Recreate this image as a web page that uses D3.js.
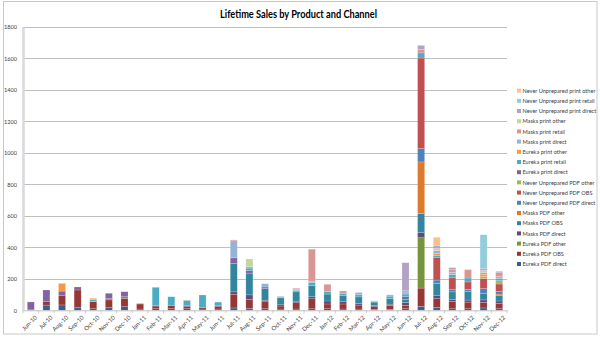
<!DOCTYPE html>
<html><head><meta charset="utf-8">
<script src="https://cdn.jsdelivr.net/npm/d3@7"></script>
<style>html,body{margin:0;padding:0;background:#fff;}svg{display:block;font-family:Lato,"Open Sans",sans-serif;}</style>
</head><body><svg id="c" width="600" height="338"></svg>
<script>
const months = ["Jun-10","Jul-10","Aug-10","Sep-10","Oct-10","Nov-10","Dec-10","Jan-11","Feb-11","Mar-11","Apr-11","May-11","Jun-11","Jul-11","Aug-11","Sep-11","Oct-11","Nov-11","Dec-11","Jan-12","Feb-12","Mar-12","Apr-12","May-12","Jun-12","Jul-12","Aug-12","Sep-12","Oct-12","Nov-12","Dec-12"];
const seriesNames = ["Eureka PDF direct","Eureka PDF OBS","Eureka PDF other","Masks PDF direct","Masks PDF OBS","Masks PDF other","Never Unprepared PDF direct","Never Unprepared PDF OBS","Never Unprepared PDF other","Eureka print direct","Eureka print retail","Eureka print other","Masks print direct","Masks print retail","Masks print other","Never Unprepared print direct","Never Unprepared print retail","Never Unprepared print other"];
const seriesColors = ["#3a5f8e","#953735","#77933c","#604a7b","#31859c","#dd7a2d","#4f81bd","#c0504d","#9bbb59","#8064a2","#4bacc6","#f79646","#95b3d7","#d99694","#c3d69b","#b3a2c7","#93cddd","#fac090"];
const eurekaPdfDirect   = [3,33,34,17,10,17,23,8,10,10,10,8,8,15,13,10,8,8,10,10,8,8,6,6,10,25,19,10,10,15,10];
const eurekaPdfObs      = [0,22,61,112,45,49,53,32,17,21,13,10,15,87,57,44,19,40,63,30,32,25,17,25,21,116,55,47,42,34,34];
const eurekaPdfOther    = [0,0,0,0,3,8,10,0,0,0,0,0,0,0,0,0,0,0,0,0,0,0,0,0,0,320,0,0,0,0,0];
const masksPdfDirect    = [0,0,0,0,0,0,0,0,4,0,8,0,6,15,28,10,8,10,13,19,15,10,8,8,19,32,21,13,13,17,15];
const masksPdfObs       = [0,0,0,0,0,0,0,0,0,0,0,0,0,180,138,74,44,59,72,44,40,42,21,36,19,121,76,47,55,42,36];
const masksPdfOther     = [0,0,0,0,0,0,0,0,0,0,0,0,0,0,0,0,0,0,0,0,0,0,0,0,0,328,0,0,0,0,8];
const nuPdfDirect       = [0,0,0,0,0,0,0,0,0,0,0,0,0,0,0,0,0,0,0,0,0,0,0,0,0,85,21,17,13,30,17];
const nuPdfObs          = [0,0,0,0,0,0,0,0,0,0,0,0,0,0,0,0,0,0,0,0,0,0,0,0,0,575,144,72,47,63,47];
const nuPdfOther        = [0,0,0,0,0,0,0,0,0,0,0,0,0,0,0,0,0,0,0,0,0,0,0,0,0,0,0,0,0,13,21];
const eurekaPrintDirect = [50,74,27,19,0,34,32,0,0,0,0,0,0,36,17,10,0,0,0,0,0,0,0,0,17,0,0,0,0,0,0];
const eurekaPrintRetail = [0,0,0,0,10,0,0,0,115,55,32,79,23,0,15,0,5,10,17,15,13,15,4,15,17,32,13,21,25,0,13];
const eurekaPrintOther  = [0,0,49,0,8,0,0,0,0,0,2,0,0,0,0,0,0,0,0,0,0,0,0,0,0,0,13,0,0,13,0];
const masksPrintDirect  = [0,0,0,0,0,0,0,0,0,0,0,0,0,108,10,21,5,6,10,0,0,13,4,8,13,0,17,13,0,0,13];
const masksPrintRetail  = [0,0,0,0,0,0,0,5,0,0,0,0,0,6,0,0,0,7,203,47,15,0,0,0,8,23,0,21,53,13,25];
const masksPrintOther   = [0,0,0,0,0,0,0,0,0,0,0,0,0,0,48,0,0,0,0,0,0,0,0,0,0,0,13,0,0,13,0];
const nuPrintDirect     = [0,0,0,0,0,0,0,0,0,0,0,0,0,0,0,0,0,0,0,0,0,0,0,0,178,25,17,10,0,13,8];
const nuPrintRetail     = [0,0,0,0,0,0,0,0,0,0,0,0,0,0,0,0,0,0,0,0,0,0,0,0,0,0,0,0,0,214,0];
const nuPrintOther      = [0,0,0,0,0,0,0,0,0,0,0,0,0,0,0,0,0,0,0,0,0,0,0,0,0,0,55,0,0,0,0];
const yTicks = [0,200,400,600,800,1000,1200,1400,1600,1800];
const title = "Lifetime Sales by Product and Channel";

const seriesValues = [eurekaPdfDirect,eurekaPdfObs,eurekaPdfOther,masksPdfDirect,masksPdfObs,masksPdfOther,nuPdfDirect,nuPdfObs,nuPdfOther,eurekaPrintDirect,eurekaPrintRetail,eurekaPrintOther,masksPrintDirect,masksPrintRetail,masksPrintOther,nuPrintDirect,nuPrintRetail,nuPrintOther];
const table = months.map((m,i)=>{const r={month:m}; seriesNames.forEach((s,j)=>r[s]=seriesValues[j][i]); return r;});

const svg = d3.select("#c");
const L=23, R=507, T=26.8, B=310.3;
const x = d3.scaleBand().domain(months).range([L,R]).paddingInner(0.55).paddingOuter(0.275);
const y = d3.scaleLinear().domain([0,1800]).range([B,T]);
const color = d3.scaleOrdinal().domain(seriesNames).range(seriesColors);

// chart border
svg.append("rect").attr("x",3.5).attr("y",1.5).attr("width",593.5).attr("height",332.5).attr("fill","#fff").attr("stroke","#c8c8c8").attr("stroke-width",1);

// gridlines
svg.append("g").selectAll("line").data(yTicks.filter(d=>d>0)).join("line")
  .attr("x1",L).attr("x2",R).attr("y1",d=>Math.round(y(d))+0.5).attr("y2",d=>Math.round(y(d))+0.5)
  .attr("stroke","#bfbfbf").attr("stroke-width",1);

// y axis
const ya = svg.append("g").attr("transform",`translate(${L},0)`).call(d3.axisLeft(y).tickValues(yTicks).tickFormat(d3.format("d")).tickSize(0).tickPadding(6));
ya.select(".domain").attr("stroke","#d9d9d9").attr("stroke-width",2.5);
ya.selectAll("text").attr("font-size",5.6).attr("fill","#404040").attr("font-family","Lato, sans-serif");

// bars
const stack = d3.stack().keys(seriesNames)(table);
svg.append("g").selectAll("g").data(stack).join("g").attr("fill",d=>color(d.key))
  .selectAll("rect").data(d=>d.filter(p=>p[1]-p[0]>0)).join("rect")
  .attr("x",d=>x(d.data.month)).attr("width",x.bandwidth())
  .attr("y",d=>y(d[1])).attr("height",d=>y(d[0])-y(d[1]))
  .attr("stroke","rgba(255,255,255,0.35)").attr("stroke-width",0.5);

// x axis
const xa = svg.append("g").attr("transform",`translate(0,${B})`).call(d3.axisBottom(x).tickSize(0).tickPadding(3));
xa.select(".domain").attr("stroke","#bfbfbf").attr("stroke-width",1);
xa.selectAll("text").attr("font-size",6).attr("fill","#404040").attr("font-family","Lato, sans-serif")
  .attr("text-anchor","end").attr("dy","0.35em").attr("transform","translate(3,4) rotate(-45)");
// category boundary ticks
svg.append("g").selectAll("line").data(d3.range(months.length+1)).join("line")
  .attr("x1",i=>L+i*x.step()).attr("x2",i=>L+i*x.step()).attr("y1",B).attr("y2",B+3)
  .attr("stroke","#bfbfbf").attr("stroke-width",0.8);

// title
svg.append("text").attr("x",298.5).attr("y",18).attr("text-anchor","middle")
  .attr("font-size",11).attr("font-weight","bold").attr("fill","#000")
  .attr("textLength",157).attr("lengthAdjust","spacingAndGlyphs").text(title);

// legend
const leg = svg.append("g");
const items = seriesNames.slice().reverse();
const lg = leg.selectAll("g").data(items).join("g").attr("transform",(d,i)=>`translate(517,${90.8+i*10.2})`);
lg.append("rect").attr("x",0).attr("y",-2.2).attr("width",4).attr("height",4).attr("fill",d=>color(d));
lg.append("text").attr("x",5.5).attr("y",0).attr("dy","0.35em").attr("font-size",5.6).attr("fill","#404040").text(d=>d);
</script></body></html>
